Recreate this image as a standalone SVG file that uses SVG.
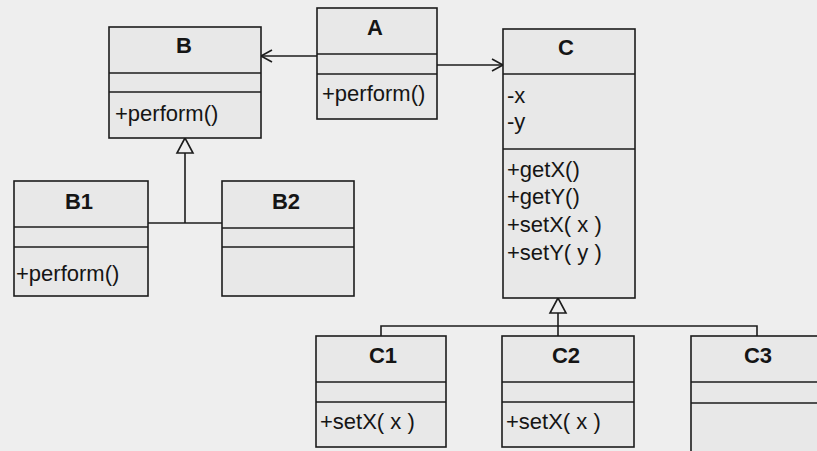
<svg xmlns="http://www.w3.org/2000/svg" width="817" height="451" viewBox="0 0 817 451">
<style>
.box{fill:#e8e8e8;stroke:#1c1c1c;stroke-width:1.6}
.dv{stroke:#1c1c1c;stroke-width:1.6}
.t{font-family:'Liberation Sans',Arial,sans-serif;font-weight:bold;font-size:22px;text-anchor:middle;fill:#151515}
.m{font-family:'Liberation Sans',Arial,sans-serif;font-size:22px;fill:#151515}
.ln{stroke:#1c1c1c;stroke-width:1.6;fill:none}
</style>
<defs>
<marker id="open" markerUnits="userSpaceOnUse" viewBox="-13 -8 15 16" markerWidth="15" markerHeight="16" refX="0" refY="0" orient="auto">
<path d="M-11,-6 L0,0 L-11,6" fill="none" stroke="#1c1c1c" stroke-width="1.6"/>
</marker>
<marker id="tri" markerUnits="userSpaceOnUse" viewBox="-17 -10 19 20" markerWidth="19" markerHeight="20" refX="0" refY="0" orient="auto">
<path d="M0,0 L-15,-8 L-15,8 Z" fill="#eeeeee" stroke="#1c1c1c" stroke-width="1.6"/>
</marker>
</defs>
<rect width="817" height="451" fill="#eeeeee"/>

<g id="connectors">
<path class="ln" d="M317,56 H261" marker-end="url(#open)"/>
<path class="ln" d="M437,65 H503" marker-end="url(#open)"/>
<path class="ln" d="M148,223 H222"/>
<path class="ln" d="M185,223 V138" marker-end="url(#tri)"/>
<path class="ln" d="M381,336 V326 H757 V336"/>
<path class="ln" d="M558,336 V298" marker-end="url(#tri)"/>
</g>

<g id="A">
<rect class="box" x="317" y="8" width="120" height="111"/>
<line class="dv" x1="317" y1="54" x2="437" y2="54"/>
<line class="dv" x1="317" y1="74" x2="437" y2="74"/>
<text class="t" x="375" y="35">A</text>
<text class="m" x="322" y="101">+perform()</text>
</g>

<g id="B">
<rect class="box" x="109" y="27" width="152" height="111"/>
<line class="dv" x1="109" y1="73" x2="261" y2="73"/>
<line class="dv" x1="109" y1="92" x2="261" y2="92"/>
<text class="t" x="184" y="53">B</text>
<text class="m" x="115" y="121">+perform()</text>
</g>

<g id="C">
<rect class="box" x="503" y="29" width="132" height="269"/>
<line class="dv" x1="503" y1="74" x2="635" y2="74"/>
<line class="dv" x1="503" y1="149" x2="635" y2="149"/>
<text class="t" x="566" y="55">C</text>
<text class="m" x="507" y="103">-x</text>
<text class="m" x="507" y="129">-y</text>
<text class="m" x="507" y="177">+getX()</text>
<text class="m" x="507" y="204">+getY()</text>
<text class="m" x="507" y="232">+setX( x )</text>
<text class="m" x="507" y="260">+setY( y )</text>
</g>

<g id="B1">
<rect class="box" x="14" y="181" width="134" height="115"/>
<line class="dv" x1="14" y1="227" x2="148" y2="227"/>
<line class="dv" x1="14" y1="247" x2="148" y2="247"/>
<text class="t" x="79" y="209">B1</text>
<text class="m" x="16" y="281">+perform()</text>
</g>

<g id="B2">
<rect class="box" x="222" y="181" width="132" height="115"/>
<line class="dv" x1="222" y1="228" x2="354" y2="228"/>
<line class="dv" x1="222" y1="247" x2="354" y2="247"/>
<text class="t" x="286" y="209">B2</text>
</g>

<g id="C1">
<rect class="box" x="316" y="336" width="130" height="111"/>
<line class="dv" x1="316" y1="382" x2="446" y2="382"/>
<line class="dv" x1="316" y1="402" x2="446" y2="402"/>
<text class="t" x="383" y="363">C1</text>
<text class="m" x="320" y="429">+setX( x )</text>
</g>

<g id="C2">
<rect class="box" x="502" y="336" width="132" height="111"/>
<line class="dv" x1="502" y1="382" x2="634" y2="382"/>
<line class="dv" x1="502" y1="402" x2="634" y2="402"/>
<text class="t" x="566" y="363">C2</text>
<text class="m" x="506" y="429">+setX( x )</text>
</g>

<g id="C3">
<rect class="box" x="691" y="336" width="140" height="130"/>
<line class="dv" x1="691" y1="382" x2="817" y2="382"/>
<line class="dv" x1="691" y1="403" x2="817" y2="403"/>
<text class="t" x="758" y="363">C3</text>
</g>
</svg>
